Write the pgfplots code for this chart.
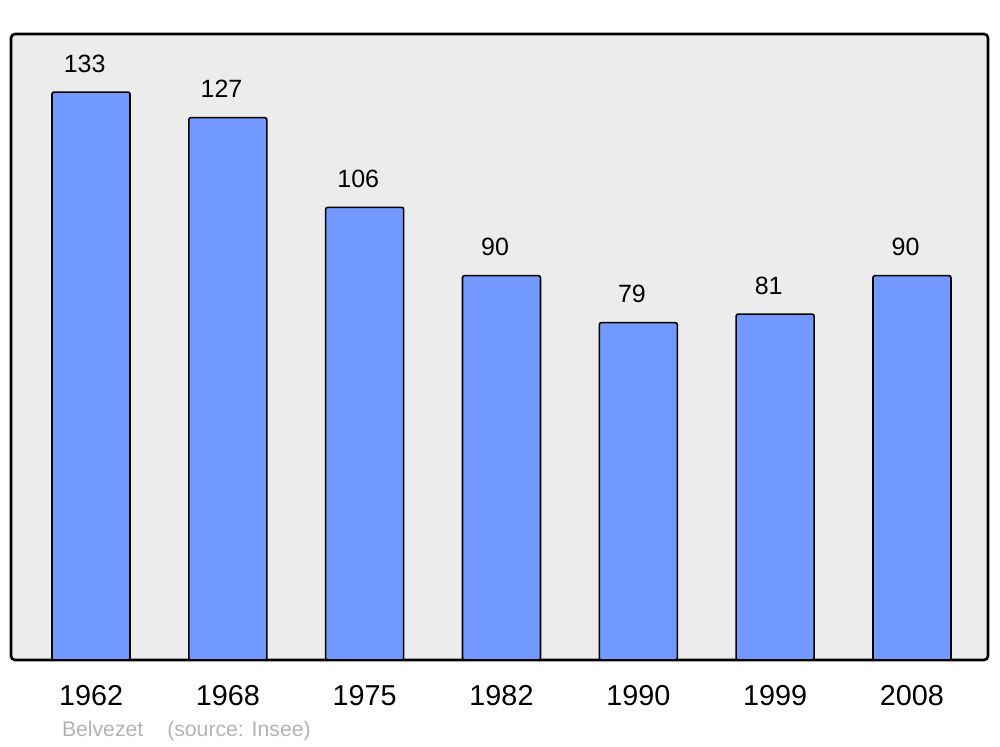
\documentclass[border=0pt]{standalone}
\usepackage{pgfplots}
\pgfplotsset{compat=1.18}
\usepackage{fontspec}
\setmainfont{Liberation Sans}
\definecolor{barblue}{HTML}{7299FF}
\definecolor{bggray}{HTML}{ECECEC}
\definecolor{srcgray}{HTML}{B3B3B3}
\begin{document}
\begin{tikzpicture}
\useasboundingbox (0,0) rectangle (500pt,373.5pt);
\begin{axis}[
  at={(5.5pt,43.5pt)}, anchor=south west,
  scale only axis, width=488.5pt, height=313pt,
  xmin=-0.585, xmax=6.556, ymin=0, ymax=146.6,
  axis background/.style={fill=bggray},
  axis line style={line width=1.3pt, rounded corners=2pt},
  ytick=\empty,
  xtick={0,1,2,3,4,5,6},
  xticklabels={1962,1968,1975,1982,1990,1999,2008},
  major tick length=0pt,
  xticklabel style={font=\fontsize{14.4}{16}\selectfont, inner sep=0pt, yshift=-12.5pt},
  /pgf/number format/assume math mode=true,
  ybar, bar width=39pt,
  nodes near coords,
  every node near coord/.append style={font=\fontsize{12.5}{14}\selectfont, anchor=south, inner sep=0pt, yshift=9.5pt, xshift=-3.2pt, black},
]
\addplot[fill=barblue, draw=black, line width=0.8pt, rounded corners=1pt]
  coordinates {(0,133) (1,127) (2,106) (3,90) (4,79) (5,81) (6,90)};
\end{axis}
\node[anchor=west, inner sep=0pt, text=srcgray, font=\fontsize{10.6}{12}\selectfont] at (30.8pt,8pt) {Belvezet\hspace{12pt}(source: Insee)};
\end{tikzpicture}
\end{document}
